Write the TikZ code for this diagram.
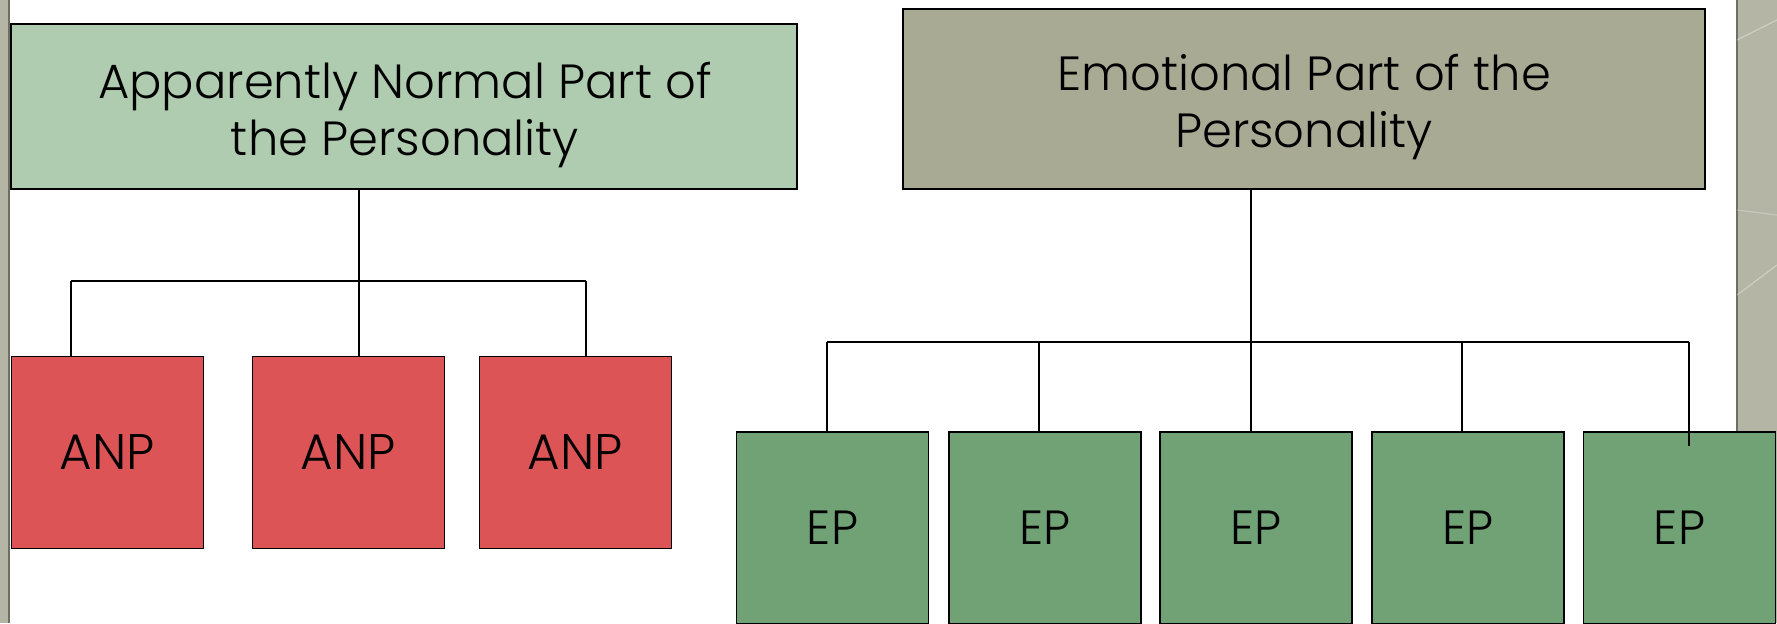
\documentclass[tikz,border=0pt]{standalone}
\usepackage{fontspec}
\setmainfont{Poppins}[UprightFont=* Light]
\usetikzlibrary{positioning}
\definecolor{anphead}{HTML}{AFCCB0}
\definecolor{ephead}{HTML}{A8AA94}
\definecolor{anpred}{HTML}{DC5456}
\definecolor{epgreen}{HTML}{70A276}
\definecolor{sidegray}{HTML}{B4B5A5}
\definecolor{sideline}{HTML}{6E6F64}
\newcommand\headsize{\fontsize{24}{28.5}\selectfont}

\tikzset{
  headbox/.style={draw=black, line width=0.9pt, align=center, inner sep=0pt, font=\headsize},
  partbox/.style={draw=black, line width=0.9pt, minimum width=96pt, minimum height=96pt, inner sep=0pt, font=\headsize},
  link/.style={draw=black, line width=0.75pt}
}

\begin{document}
\begin{tikzpicture}[x=0.5pt, y=-0.5pt]

\useasboundingbox (0,0) rectangle (1777,623);

% side strips of the slide
\fill[sidegray] (0,0) rectangle (9,623);
\draw[sideline, line width=1pt] (9,0) -- (9,623);
\fill[sidegray] (1737,0) rectangle (1777,623);
\draw[sideline, line width=1pt] (1737,0) -- (1737,623);
\draw[white, opacity=0.35, line width=0.6pt] (1737,40) -- (1777,20);
\draw[white, opacity=0.35, line width=0.6pt] (1737,295) -- (1777,265);
\draw[white, opacity=0.25, line width=0.6pt] (1737,210) -- (1777,215);

% heads
\node[headbox, fill=anphead, minimum width=393pt, minimum height=82.5pt] (anp) at (404,106.5) {};
\node[align=center, font=\headsize] (anptext) at (405,115)
  {Apparently Normal Part of\\the Personality};
\node[headbox, fill=ephead, minimum width=401pt, minimum height=90pt] (ep) at (1304,99) {};
\node[align=center, font=\headsize] (eptext) at (1304,107)
  {Emotional Part of the\\Personality};

% parts
\node[partbox, fill=anpred, font=\fontsize{25}{28}\selectfont] (anp1) at (107.5,452.5) {ANP};
\node[partbox, fill=anpred, font=\fontsize{25}{28}\selectfont] (anp2) at (348.5,452.5) {ANP};
\node[partbox, fill=anpred, font=\fontsize{25}{28}\selectfont] (anp3) at (575.5,452.5) {ANP};

\node[partbox, fill=epgreen] (ep1) at (832.5,528) {EP};
\node[partbox, fill=epgreen] (ep2) at (1045,528) {EP};
\node[partbox, fill=epgreen] (ep3) at (1256,528) {EP};
\node[partbox, fill=epgreen] (ep4) at (1468,528) {EP};
\node[partbox, fill=epgreen] (ep5) at (1679.5,528) {EP};

% ANP branches
\coordinate (abus) at (359,281);
\coordinate (abusl) at (71,281);
\coordinate (abusr) at (586,281);
\draw[link] (anp.south -| abus) -- (abus);
\draw[link] (abusl) -- (abusr);
\draw[link] (abusl) -- (anp1.north -| abusl);
\draw[link] (abus) -- (anp2.north -| abus);
\draw[link] (abusr) -- (anp3.north -| abusr);

% EP branches
\coordinate (ebus1) at (827,342);
\coordinate (ebus2) at (1039,342);
\coordinate (ebus3) at (1251,342);
\coordinate (ebus4) at (1462,342);
\coordinate (ebus5) at (1689,342);
\draw[link] (ep.south -| ebus3) -- (ebus3);
\draw[link] (ebus1) -- (ebus5);
\foreach \i in {1,2,3,4}
  \draw[link] (ebus\i) -- (ep\i.north -| ebus\i);
\draw[link] (ebus5) -- ([yshift=-7.5pt]ep5.north -| ebus5);

\end{tikzpicture}
\end{document}
